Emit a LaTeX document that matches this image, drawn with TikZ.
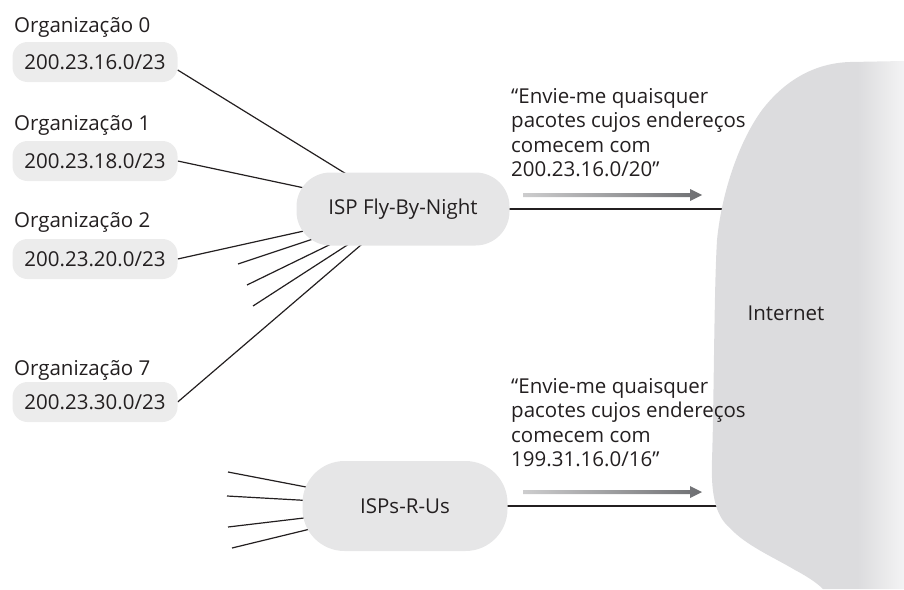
\documentclass[tikz,border=0pt]{standalone}
\usepackage{fontspec}
\setmainfont{Open Sans}
\usetikzlibrary{backgrounds}
\definecolor{inkgray}{HTML}{231F20}
\definecolor{orgfill}{HTML}{ECECEC}
\definecolor{ispfill}{HTML}{E6E6E7}
\definecolor{inetgray}{HTML}{DCDCDE}
\definecolor{inetlight}{HTML}{F3F3F4}
\definecolor{arrlight}{HTML}{CDCDCE}
\definecolor{arrdark}{HTML}{6D6E71}
\pgfdeclarehorizontalshading{inetshade}{100bp}{color(0bp)=(inetgray); color(25bp)=(inetgray);
 color(63bp)=(inetgray); color(75bp)=(inetlight); color(100bp)=(inetlight)}

\begin{document}
\begin{tikzpicture}[x=1pt,y=-1pt,
 every node/.style={font=\fontsize{20.5}{24.5}\selectfont,text=inkgray},
 orglabel/.style={anchor=base west,inner sep=0pt},
 orgblob/.style={fill=orgfill,rounded corners=15pt,minimum width=165pt,minimum height=40pt,inner sep=0pt},
 ispblob/.style={fill=ispfill,rounded corners=34pt,inner sep=0pt},
 msg/.style={anchor=north west,align=left,inner sep=0pt},
 link/.style={draw=inkgray,line width=1.2pt}]
\useasboundingbox (0,0) rectangle (904,589);
% the Internet cloud
\shade[shading=inetshade] (904,61) -- (850,62)
 .. controls (815,63) and (785,80) .. (762,110)
 .. controls (740,140) and (722,190) .. (717,240)
 .. controls (714,290) and (714,400) .. (712,460)
 .. controls (711,490) and (714,515) .. (730,528)
 .. controls (745,545) and (775,558) .. (795,570)
 .. controls (810,578) and (818,584) .. (823,589) -- (904,589) -- cycle;
\node (inet) at (786,313) {Internet};
% organisations
\node[orglabel] (lab0) at (14,32) {Organização 0};
\node[orgblob] (org0) at (95,62) {200.23.16.0/23};
\node[orglabel] (lab1) at (14,130) {Organização 1};
\node[orgblob] (org1) at (95,161) {200.23.18.0/23};
\node[orglabel] (lab2) at (14,227) {Organização 2};
\node[orgblob] (org2) at (95,259) {200.23.20.0/23};
\node[orglabel] (lab7) at (14,375) {Organização 7};
\node[orgblob] (org7) at (95,402) {200.23.30.0/23};
% ISPs
\node[ispblob,minimum width=213pt,minimum height=73pt] (isp1) at (403,209) {ISP Fly-By-Night};
\node[ispblob,minimum width=205pt,minimum height=90pt,rounded corners=42pt] (isp2) at (405,506) {ISPs-R-Us};
% advertisements
\node[msg] (msg1) at (511,88) {“Envie-me quaisquer\\pacotes cujos endereços\\comecem com\\200.23.16.0/20”};
\node[msg] (msg2) at (511,378) {“Envie-me quaisquer\\pacotes cujos endereços\\comecem com\\199.31.16.0/16”};
\foreach \y in {195,492}
 \shade[left color=arrlight,right color=arrdark] (523,\y-2) -- (690,\y-2) -- (690,\y-6)
 -- (702,\y) -- (690,\y+6) -- (690,\y+2) -- (523,\y+2) -- cycle;
% links
\coordinate (a1) at (238,264); \coordinate (a2) at (247,285); \coordinate (a3) at (253,306);
\coordinate (b1) at (228,472); \coordinate (b2) at (227,496);
\coordinate (b3) at (228,527); \coordinate (b4) at (232,548);
\coordinate (in1) at (730,209); \coordinate (in2) at (730,506);
\begin{pgfonlayer}{background}
\draw[link] ([yshift=-8pt]org0.east) -- (isp1.center);
\foreach \o in {org1,org2,org7} \draw[link] (\o.east) -- (isp1.center);
\foreach \s in {a1,a2,a3} \draw[link] (\s) -- (isp1.center);
\foreach \s in {b1,b2,b3,b4} \draw[link] (\s) -- (isp2.center);
\draw[link] (isp1.center) -- (in1);
\draw[link] (isp2.center) -- (in2);
\end{pgfonlayer}
\end{tikzpicture}
\end{document}
